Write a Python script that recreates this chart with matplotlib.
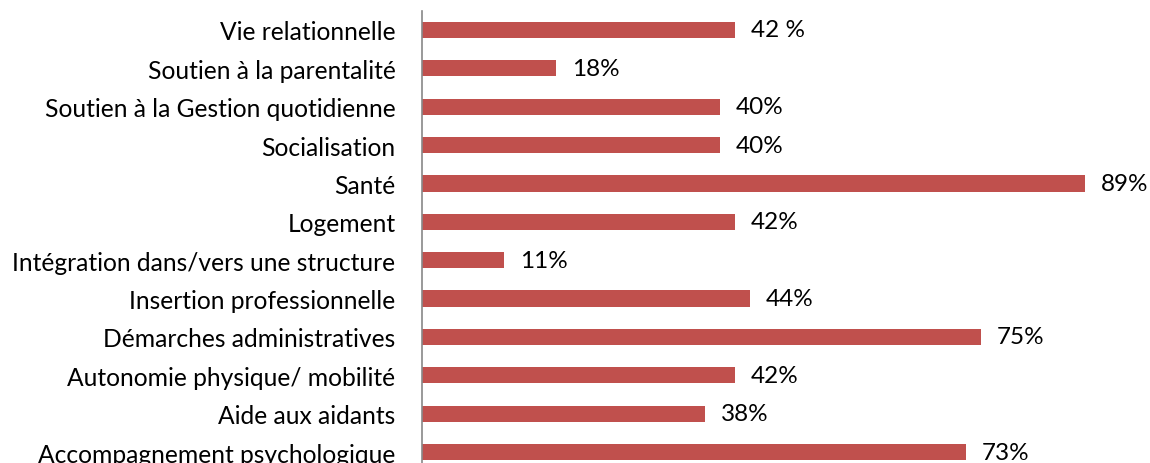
import matplotlib.pyplot as plt
import numpy as np

# top to bottom, as in the reference
categories = [
    "Vie relationnelle",
    "Soutien à la parentalité",
    "Soutien à la Gestion quotidienne",
    "Socialisation",
    "Santé",
    "Logement",
    "Intégration dans/vers une structure",
    "Insertion professionnelle",
    "Démarches administratives",
    "Autonomie physique/ mobilité",
    "Aide aux aidants",
    "Accompagnement psychologique",
]
values = [42, 18, 40, 40, 89, 42, 11, 44, 75, 42, 38, 73]
value_labels = ["42 %", "18%", "40%", "40%", "89%", "42%", "11%", "44%", "75%", "42%", "38%", "73%"]

plt.rcParams['font.family'] = ['Lato', 'DejaVu Sans']

W, H = 1150, 464
fig = plt.figure(figsize=(W / 100, H / 100), dpi=100)
# axes placed in pixel terms: left edge at the vertical axis line
ax = fig.add_axes([422 / W, 1 - 472.2 / H, (W - 422) / W, (472.2 - 11.8) / H])

y = np.arange(len(categories))[::-1]
ax.barh(y, values, height=0.42, color="#c0504d")

ax.set_xlim(0, (W - 422) / 7.45)
ax.set_ylim(-0.5, len(categories) - 0.5)
ax.set_yticks(y)
ax.set_yticklabels(categories, fontsize=17.7)
ax.tick_params(axis='y', length=0, pad=19)
ax.set_xticks([])

for s in ["top", "right", "bottom"]:
    ax.spines[s].set_visible(False)
ax.spines["left"].set_color("#888888")
ax.spines["left"].set_linewidth(1.2)

for yi, v, lab in zip(y, values, value_labels):
    ax.annotate(lab, xy=(v, yi), xytext=(11.5, 0), textcoords="offset points",
                ha="left", va="center", fontsize=17.5)

fig.savefig("out.png", dpi=100)
